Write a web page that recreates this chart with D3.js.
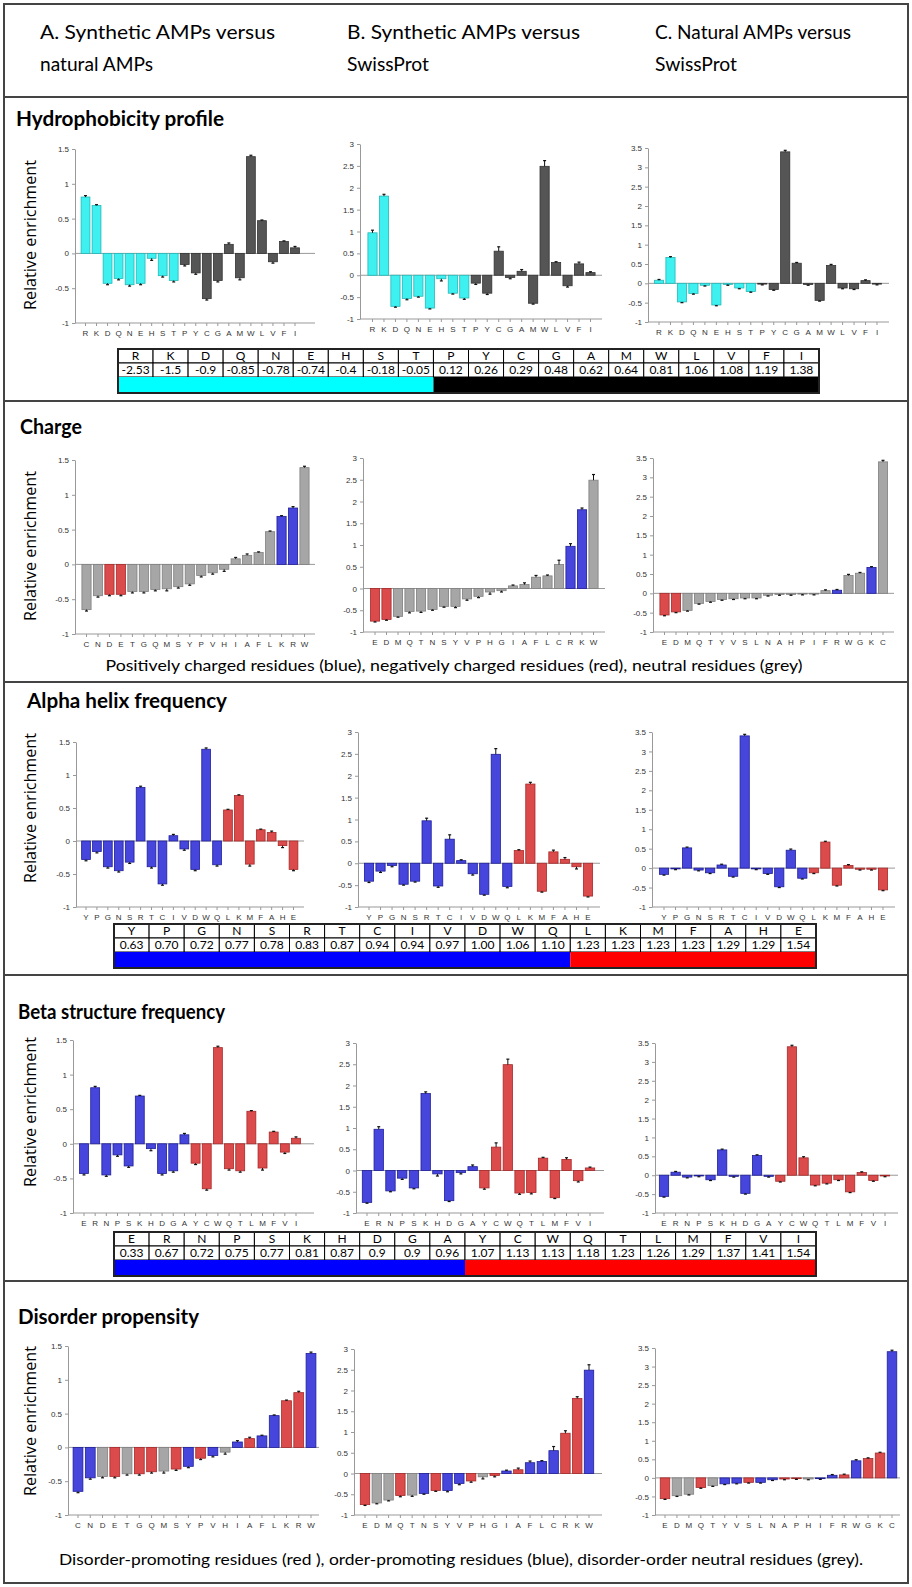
<!DOCTYPE html>
<html>
<head>
<meta charset="utf-8">
<script src="https://cdn.jsdelivr.net/npm/d3@7/dist/d3.min.js"></script>
<style>
body { margin: 0; background: #fff; }
svg { display: block; }
</style>
</head>
<body>
<script>
// residues in hydrophobicity order, enrichment per comparison (A, B, C)
var residues = ["R","K","D","Q","N","E","H","S","T","P","Y","C","G","A","M","W","L","V","F","I"];
var enrichA = [0.81,0.69,-0.43,-0.36,-0.45,-0.43,-0.07,-0.32,-0.39,-0.16,-0.28,-0.65,-0.39,0.13,-0.35,1.39,0.47,-0.12,0.17,0.08];
var enrichB = [0.97,1.81,-0.71,-0.53,-0.48,-0.75,-0.08,-0.41,-0.52,-0.18,-0.41,0.55,-0.05,0.09,-0.64,2.49,0.29,-0.24,0.26,0.06];
var enrichC = [0.08,0.67,-0.48,-0.26,-0.05,-0.56,-0.03,-0.12,-0.21,-0.02,-0.16,3.40,0.52,-0.03,-0.44,0.46,-0.12,-0.14,0.07,-0.02];
var errA = [0.02,0.01,0.02,0.02,0.02,0.02,0.03,0.02,0.02,0.02,0.02,0.02,0.02,0.02,0.03,0.02,0.01,0.02,0.01,0.02];
var errB = [0.06,0.04,0.02,0.03,0.02,0.02,0.05,0.02,0.03,0.03,0.03,0.10,0.03,0.04,0.02,0.13,0.02,0.03,0.04,0.02];
var errC = [0.02,0.02,0.02,0.02,0.02,0.02,0.02,0.02,0.02,0.02,0.02,0.04,0.02,0.02,0.02,0.03,0.02,0.02,0.02,0.02];
var yMax = [1.5, 3, 3.5];

// category orders of each panel
var hydroOrder = residues;
var chargeOrder = [
  ["C","N","D","E","T","G","Q","M","S","Y","P","V","H","I","A","F","L","K","R","W"],
  ["E","D","M","Q","T","N","S","Y","V","P","H","G","I","A","F","L","C","R","K","W"],
  ["E","D","M","Q","T","Y","V","S","L","N","A","H","P","I","F","R","W","G","K","C"]
];
var alphaOrder = ["Y","P","G","N","S","R","T","C","I","V","D","W","Q","L","K","M","F","A","H","E"];
var betaOrder = ["E","R","N","P","S","K","H","D","G","A","Y","C","W","Q","T","L","M","F","V","I"];
var disorderOrder = [
  ["C","N","D","E","T","G","Q","M","S","Y","P","V","H","I","A","F","L","K","R","W"],
  ["E","D","M","Q","T","N","S","Y","V","P","H","G","I","A","F","L","C","R","K","W"],
  ["E","D","M","Q","T","Y","V","S","L","N","A","P","H","I","F","R","W","G","K","C"]
];

// groups used for colouring
var hydrophilic = ["R","K","D","Q","N","E","H","S","T"];
var positive = ["K","R"];
var negative = ["D","E"];
var helixFormers = ["L","K","M","F","A","H","E"];
var betaFormers = ["Y","C","W","Q","T","L","M","F","V","I"];
var disorderPromoting = ["A","R","G","Q","S","P","E","K"];
var orderPromoting = ["W","C","F","I","Y","V","L","N"];

// scale tables
var hydroValues = ["-2.53","-1.5","-0.9","-0.85","-0.78","-0.74","-0.4","-0.18","-0.05","0.12","0.26","0.29","0.48","0.62","0.64","0.81","1.06","1.08","1.19","1.38"];
var alphaValues = ["0.63","0.70","0.72","0.77","0.78","0.83","0.87","0.94","0.94","0.97","1.00","1.06","1.10","1.23","1.23","1.23","1.23","1.29","1.29","1.54"];
var betaValues = ["0.33","0.67","0.72","0.75","0.77","0.81","0.87","0.9","0.9","0.96","1.07","1.13","1.13","1.18","1.23","1.26","1.29","1.37","1.41","1.54"];

var headers = [
  ["A. Synthetic AMPs versus", "natural AMPs"],
  ["B. Synthetic AMPs versus", "SwissProt"],
  ["C. Natural AMPs versus", "SwissProt"]
];

var enrich = [enrichA, enrichB, enrichC];
var errs = [errA, errB, errC];

var col = {
  cyan: ["#3ff0f0", "#22b8b8"],
  dark: ["#555555", "#333333"],
  grey: ["#a6a6a6", "#808080"],
  red: ["#dc4b4b", "#a82828"],
  blue: ["#4646dc", "#1e1e9a"]
};

var rows = [
  { title: "Hydrophobicity profile", tx: 16, ty: 126, tw: 208, ylab: 235,
    orders: [hydroOrder, hydroOrder, hydroOrder],
    color: function(a) { return hydrophilic.indexOf(a) >= 0 ? col.cyan : col.dark; },
    yTop: [149, 144, 148], yBot: [323, 319, 322],
    cols: [{axis: 75, first: 85.5, last: 295, end: 315},
           {axis: 360, first: 372.5, last: 590.5, end: 602},
           {axis: 648, first: 659, last: 877, end: 889}] },
  { title: "Charge", tx: 20, ty: 434, tw: 62, ylab: 546,
    orders: chargeOrder,
    color: function(a) { return positive.indexOf(a) >= 0 ? col.blue : negative.indexOf(a) >= 0 ? col.red : col.grey; },
    yTop: [460, 458, 458], yBot: [634, 632, 632],
    cols: [{axis: 75, first: 86.5, last: 304.5, end: 315},
           {axis: 363, first: 375, last: 593.5, end: 605},
           {axis: 653, first: 664.5, last: 883, end: 894}] },
  { title: "Alpha helix frequency", tx: 27, ty: 708, tw: 200, ylab: 808,
    orders: [alphaOrder, alphaOrder, alphaOrder],
    color: function(a) { return helixFormers.indexOf(a) >= 0 ? col.red : col.blue; },
    yTop: [742, 732, 732], yBot: [907, 907, 907],
    cols: [{axis: 76, first: 86, last: 293.5, end: 304},
           {axis: 358, first: 369, last: 588, end: 600},
           {axis: 652, first: 664, last: 883, end: 895}] },
  { title: "Beta structure frequency", tx: 18, ty: 1019, tw: 207, ylab: 1112,
    orders: [betaOrder, betaOrder, betaOrder],
    color: function(a) { return betaFormers.indexOf(a) >= 0 ? col.red : col.blue; },
    yTop: [1040, 1043, 1043], yBot: [1213, 1213, 1213],
    cols: [{axis: 73, first: 84, last: 296, end: 314},
           {axis: 356, first: 367, last: 590, end: 604},
           {axis: 655, first: 664, last: 885, end: 898}] },
  { title: "Disorder propensity", tx: 18, ty: 1324, tw: 181, ylab: 1421,
    orders: disorderOrder,
    color: function(a) { return disorderPromoting.indexOf(a) >= 0 ? col.red : orderPromoting.indexOf(a) >= 0 ? col.blue : col.grey; },
    yTop: [1346, 1349, 1348], yBot: [1515, 1515, 1515],
    cols: [{axis: 68, first: 78, last: 311, end: 319},
           {axis: 354, first: 365, last: 589, end: 602},
           {axis: 655, first: 665, last: 892, end: 900}] }
];

var width = 912, height = 1587;
var svg = d3.select("body").append("svg")
  .attr("width", width)
  .attr("height", height);

var textFont = "Lato, 'Open Sans', sans-serif";
var tickFont = "'Liberation Sans', Arial, sans-serif";

// frame and section separators
svg.append("rect")
  .attr("x", 4).attr("y", 4).attr("width", 904).attr("height", 1579)
  .attr("fill", "none").attr("stroke", "#444").attr("stroke-width", 2);
[97, 401, 682, 975, 1281].forEach(function(yy) {
  svg.append("line").attr("x1", 4).attr("x2", 908).attr("y1", yy).attr("y2", yy)
    .attr("stroke", "#444").attr("stroke-width", 2);
});

// column headers
var headerX = [40, 347, 655];
var headerW = [[235, 113], [233, 82], [196, 82]];
headers.forEach(function(h, i) {
  h.forEach(function(line, j) {
    svg.append("text")
      .attr("x", headerX[i]).attr("y", 39 + j * 32)
      .attr("font-family", textFont).attr("font-size", 19.5)
      .attr("textLength", headerW[i][j]).attr("lengthAdjust", "spacingAndGlyphs")
      .text(line);
  });
});

function drawPanel(row, ci) {
  var c = row.cols[ci];
  var order = row.orders[ci];
  var n = order.length;
  var step = (c.last - c.first) / (n - 1);
  var x = d3.scaleBand().domain(order)
    .range([c.first - step / 2, c.last + step / 2])
    .paddingInner(0.2).paddingOuter(0.1);
  var y = d3.scaleLinear().domain([-1, yMax[ci]]).range([row.yBot[ci], row.yTop[ci]]);
  var g = svg.append("g");

  // y axis
  var yAxis = d3.axisLeft(y)
    .tickValues(d3.range(-1, yMax[ci] + 0.001, 0.5))
    .tickFormat(function(d) { return String(d); })
    .tickSize(3).tickSizeOuter(0).tickPadding(3);
  var ya = g.append("g").attr("transform", "translate(" + c.axis + ",0)").call(yAxis);
  ya.select(".domain").attr("stroke", "#999");
  ya.selectAll(".tick line").attr("stroke", "#999");
  ya.selectAll("text").attr("font-family", tickFont).attr("font-size", 8).attr("fill", "#333");

  // x axis at the bottom
  var y0 = y(-1);
  g.append("line").attr("x1", c.axis).attr("x2", c.end).attr("y1", y0).attr("y2", y0)
    .attr("stroke", "#999");
  var xt = g.selectAll(".xt").data(order).enter().append("g")
    .attr("transform", function(d) { return "translate(" + (x(d) + x.bandwidth() / 2) + "," + y0 + ")"; });
  xt.append("line").attr("y2", 3).attr("stroke", "#999");
  xt.append("text").attr("y", 13).attr("text-anchor", "middle")
    .attr("font-family", tickFont).attr("font-size", 8).attr("fill", "#333")
    .text(function(d) { return d; });

  // zero line
  g.append("line").attr("x1", c.axis).attr("x2", c.end).attr("y1", y(0)).attr("y2", y(0))
    .attr("stroke", "#999");

  // bars
  var vals = enrich[ci], ers = errs[ci];
  var data = order.map(function(a) {
    var k = residues.indexOf(a);
    return { a: a, v: vals[k], e: ers[k] };
  });
  g.selectAll(".bar").data(data).enter().append("rect")
    .attr("x", function(d) { return x(d.a); })
    .attr("width", x.bandwidth())
    .attr("y", function(d) { return Math.min(y(d.v), y(0)); })
    .attr("height", function(d) { return Math.abs(y(d.v) - y(0)); })
    .attr("fill", function(d) { return row.color(d.a)[0]; })
    .attr("stroke", function(d) { return row.color(d.a)[1]; })
    .attr("stroke-width", 0.8);

  // error bars
  var eb = g.selectAll(".err").data(data).enter().append("g")
    .attr("transform", function(d) { return "translate(" + (x(d.a) + x.bandwidth() / 2) + ",0)"; });
  eb.append("line")
    .attr("y1", function(d) { return y(d.v); })
    .attr("y2", function(d) { return y(d.v + (d.v >= 0 ? d.e : -d.e)); })
    .attr("stroke", "#111").attr("stroke-width", 1);
  eb.append("line").attr("x1", -1.5).attr("x2", 1.5)
    .attr("y1", function(d) { return y(d.v + (d.v >= 0 ? d.e : -d.e)); })
    .attr("y2", function(d) { return y(d.v + (d.v >= 0 ? d.e : -d.e)); })
    .attr("stroke", "#111").attr("stroke-width", 1.2);
}

function drawTable(x0, x1, top, labels, values, split, leftColor, rightColor) {
  var x = d3.scaleBand().domain(d3.range(labels.length)).range([x0, x1]);
  var rh = 14, bh = 16;
  var t = svg.append("g");
  [0, 1].forEach(function(r) {
    t.selectAll(".c" + r).data(labels).enter().append("rect")
      .attr("x", function(d, i) { return x(i); }).attr("y", top + r * rh)
      .attr("width", x.bandwidth()).attr("height", rh)
      .attr("fill", "#fff").attr("stroke", "#000").attr("stroke-width", 1);
  });
  t.selectAll(".lab").data(labels).enter().append("text")
    .attr("x", function(d, i) { return x(i) + x.bandwidth() / 2; }).attr("y", top + 11)
    .attr("text-anchor", "middle").attr("font-family", textFont).attr("font-size", 12)
    .text(function(d) { return d; });
  t.selectAll(".val").data(values).enter().append("text")
    .attr("x", function(d, i) { return x(i) + x.bandwidth() / 2; }).attr("y", top + rh + 11)
    .attr("text-anchor", "middle").attr("font-family", textFont).attr("font-size", 12)
    .text(function(d) { return d; });
  t.append("rect").attr("x", x0).attr("y", top + 2 * rh)
    .attr("width", x(split) - x0).attr("height", bh).attr("fill", leftColor);
  t.append("rect").attr("x", x(split)).attr("y", top + 2 * rh)
    .attr("width", x1 - x(split)).attr("height", bh).attr("fill", rightColor);
  t.append("rect").attr("x", x0).attr("y", top)
    .attr("width", x1 - x0).attr("height", 2 * rh + bh)
    .attr("fill", "none").attr("stroke", "#222").attr("stroke-width", 2);
}

rows.forEach(function(row) {
  svg.append("text")
    .attr("x", row.tx).attr("y", row.ty)
    .attr("font-family", textFont).attr("font-size", 20).attr("font-weight", "bold")
    .attr("textLength", row.tw).attr("lengthAdjust", "spacingAndGlyphs")
    .text(row.title);
  svg.append("text")
    .attr("transform", "translate(36," + row.ylab + ") rotate(-90)")
    .attr("text-anchor", "middle")
    .attr("font-family", "'Open Sans', sans-serif").attr("font-size", 15.5)
    .attr("textLength", 150).attr("lengthAdjust", "spacingAndGlyphs")
    .text("Relative enrichment");
  [0, 1, 2].forEach(function(ci) { drawPanel(row, ci); });
});

drawTable(118, 819, 349, hydroOrder, hydroValues, 9, "#00ffff", "#000000");
drawTable(114, 816, 924, alphaOrder, alphaValues, 13, "#0000ff", "#ff0000");
drawTable(114, 816, 1232, betaOrder, betaValues, 10, "#0000ff", "#ff0000");

svg.append("text")
  .attr("x", 454).attr("y", 671).attr("text-anchor", "middle")
  .attr("font-family", textFont).attr("font-size", 15.5)
  .attr("textLength", 697).attr("lengthAdjust", "spacingAndGlyphs")
  .text("Positively charged residues (blue), negatively charged residues (red), neutral residues (grey)");
svg.append("text")
  .attr("x", 461).attr("y", 1565).attr("text-anchor", "middle")
  .attr("font-family", textFont).attr("font-size", 15.5)
  .attr("textLength", 804).attr("lengthAdjust", "spacingAndGlyphs")
  .text("Disorder-promoting residues (red ), order-promoting residues (blue), disorder-order neutral residues (grey).");
</script>
</body>
</html>
